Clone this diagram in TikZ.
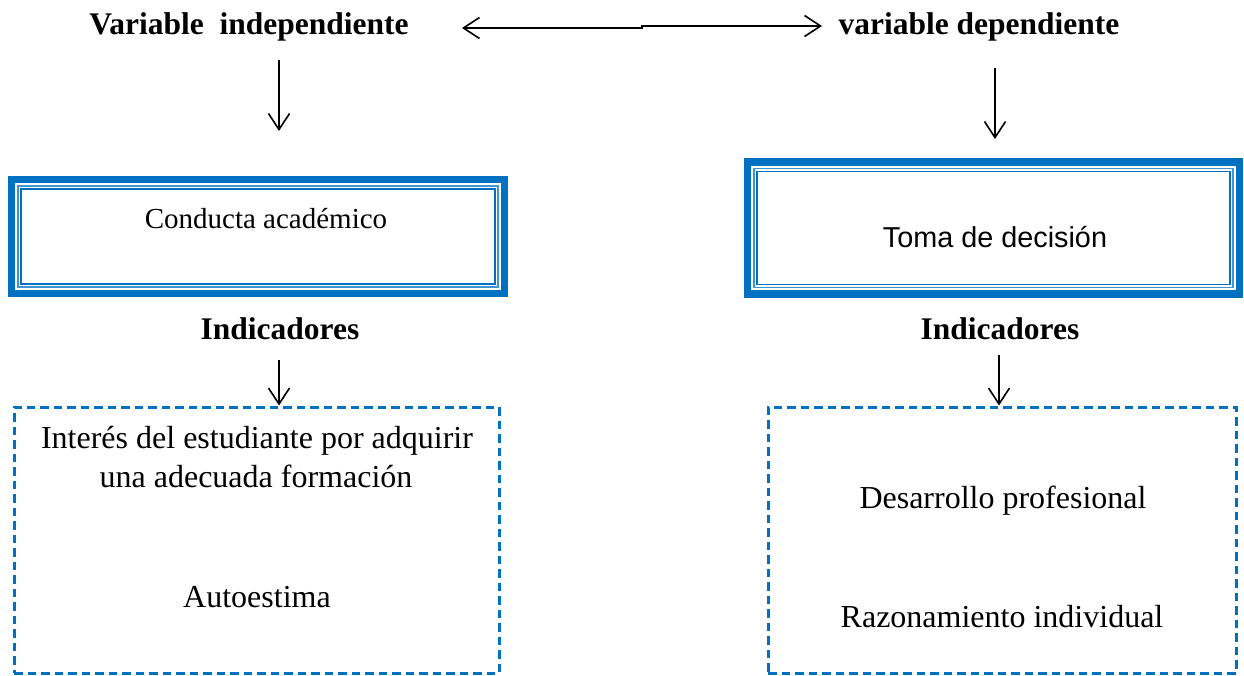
\documentclass[tikz,border=0pt]{standalone}
\usepackage{fontspec}
\setmainfont{Liberation Serif}
\newfontfamily\sansf{Liberation Sans}
\usetikzlibrary{calc,arrows.meta}
\definecolor{obl}{HTML}{0070C0}
\tikzset{
  txt/.style={anchor=base, inner sep=0pt, font=\fontsize{32}{38.5}\selectfont},
  btxt/.style={anchor=base, inner sep=0pt, font=\fontsize{31.5}{38}\selectfont\bfseries},
  vtip/.tip={Straight Barb[length=16pt,width=21pt,line width=1.6pt]},
  arr/.style={line width=1.6pt, -vtip},
  darr/.style={line width=1.8pt, vtip-vtip},
  frame/.style={draw=none, inner sep=0pt},
  dbox/.style={draw=obl, line width=3pt, dash pattern=on 8.5pt off 5pt, inner sep=0pt},
}
\begin{document}
\begin{tikzpicture}[x=1pt,y=-1pt]
\useasboundingbox (0,0) rectangle (1244,675);
% titles
\node[btxt] (ti) at (249,34) {Variable\ \ independiente};
\node[btxt] (td) at (979,34) {variable dependiente};
\coordinate (hl) at (462,28);
\coordinate (hm1) at (642,28);
\coordinate (hm2) at (642,26);
\coordinate (hr) at (822,26);
\draw[darr] (hl) -- (hm1) -- (hm2) -- (hr);
% vertical arrows from titles
\coordinate (a1s) at (279,60); \coordinate (a1e) at (279,131);
\coordinate (a2s) at (995,68); \coordinate (a2e) at (995,139);
\draw[arr] (a1s) -- (a1e);
\draw[arr] (a2s) -- (a2e);
% double boxes
\node[frame, minimum width=500pt, minimum height=121pt] (b1) at (258,236.5) {};
\node[frame, minimum width=499pt, minimum height=139pt] (b2) at (993.5,228) {};
\foreach \b in {b1,b2}{
  \draw[obl, line width=7.6pt] ($(\b.north west)+(3.8,3.8)$) rectangle ($(\b.south east)+(-3.8,-3.8)$);
  \draw[obl!75, line width=1.2pt] ($(\b.north west)+(10.2,10.2)$) rectangle ($(\b.south east)+(-10.2,-10.2)$);
  \draw[obl, line width=1.7pt] ($(\b.north west)+(13.2,13.2)$) rectangle ($(\b.south east)+(-13.2,-13.2)$);
}
\node[anchor=base, inner sep=0pt, font=\fontsize{29}{34}\selectfont] (c1) at (266,228) {Conducta académico};
\node[anchor=base, inner sep=0pt, font=\sansf\fontsize{28.8}{34}\selectfont] (c2) at (995,247) {Toma de decisión};
% indicadores
\node[btxt] (i1) at (280,339) {Indicadores};
\node[btxt] (i2) at (1000,339) {Indicadores};
% dashed boxes
\node[dbox, minimum width=485pt, minimum height=266pt] (d1) at (256.5,540) {};
\node[dbox, minimum width=468pt, minimum height=266pt] (d2) at (1002,540) {};
\coordinate (a3s) at (279,360);
\coordinate (a4s) at (999,355);
\draw[arr] (a3s) -- (a3s |- d1.north);
\draw[arr] (a4s) -- (a4s |- d2.north);
% texts in dashed boxes
\node[txt] (t1) at (257,448) {Interés del estudiante por adquirir};
\node[txt] (t2) at (256,487) {una adecuada formación};
\node[txt] (t3) at (257,607) {Autoestima};
\node[txt] (t4) at (1003,508) {Desarrollo profesional};
\node[txt] (t5) at (1002,627) {Razonamiento individual};
\end{tikzpicture}
\end{document}
